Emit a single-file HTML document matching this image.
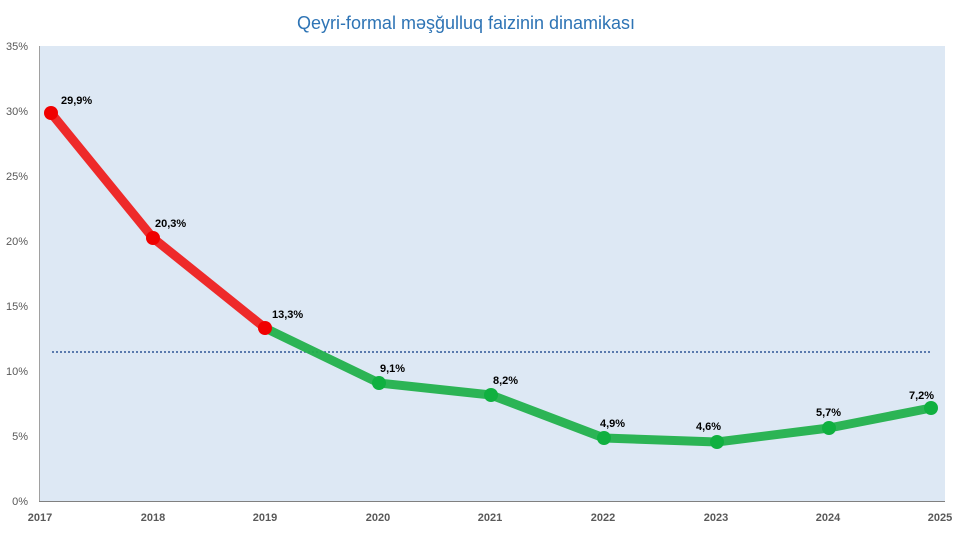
<!DOCTYPE html>
<html><head><meta charset="utf-8"><style>
body{margin:0;background:#fff;}
svg{display:block;font-family:"Liberation Sans",sans-serif;}
</style></head><body>
<svg width="968" height="540" viewBox="0 0 968 540">
<text x="466" y="29" text-anchor="middle" font-size="18" fill="#2e74b5">Qeyri-formal məşğulluq faizinin dinamikası</text>
<rect x="39" y="46" width="906" height="455" fill="#dde8f4"/>
<line x1="39.5" y1="46" x2="39.5" y2="501" stroke="#a0a0a0"/>
<line x1="39" y1="501.5" x2="945" y2="501.5" stroke="#808080"/>
<g font-size="11" fill="#595959" text-anchor="end">
<text x="28" y="50">35%</text><text x="28" y="115">30%</text><text x="28" y="180">25%</text>
<text x="28" y="245">20%</text><text x="28" y="310">15%</text><text x="28" y="375">10%</text>
<text x="28" y="440">5%</text><text x="28" y="505">0%</text>
</g>
<g font-size="11" font-weight="bold" fill="#595959" text-anchor="middle">
<text x="40" y="521">2017</text><text x="153" y="521">2018</text><text x="265" y="521">2019</text>
<text x="378" y="521">2020</text><text x="490" y="521">2021</text><text x="603" y="521">2022</text>
<text x="716" y="521">2023</text><text x="828" y="521">2024</text><text x="940" y="521">2025</text>
</g>
<line x1="52" y1="352" x2="930" y2="352" stroke="#2f5597" stroke-width="1.5" stroke-dasharray="2,2"/>
<polyline points="265,328 379,383 491,395 604,438 717,442 829,428 931,408" fill="none" stroke="#22b14c" stroke-width="9" stroke-linejoin="round" opacity="0.95"/>
<polyline points="51,113 153,238 265,328" fill="none" stroke="#ee2a2a" stroke-width="9" stroke-linejoin="round"/>
<g fill="#f00000"><circle cx="51" cy="113" r="7"/><circle cx="153" cy="238" r="7"/><circle cx="265" cy="328" r="7"/></g>
<g fill="#10b040"><circle cx="379" cy="383" r="7"/><circle cx="491" cy="395" r="7"/><circle cx="604" cy="438" r="7"/><circle cx="717" cy="442" r="7"/><circle cx="829" cy="428" r="7"/><circle cx="931" cy="408" r="7"/></g>
<g font-size="11" font-weight="bold" fill="#000">
<text x="61" y="104">29,9%</text><text x="155" y="227">20,3%</text><text x="272" y="318">13,3%</text>
<text x="380" y="372">9,1%</text><text x="493" y="384">8,2%</text><text x="600" y="427">4,9%</text>
<text x="696" y="430">4,6%</text><text x="816" y="416">5,7%</text><text x="909" y="399">7,2%</text>
</g>
</svg>
</body></html>
